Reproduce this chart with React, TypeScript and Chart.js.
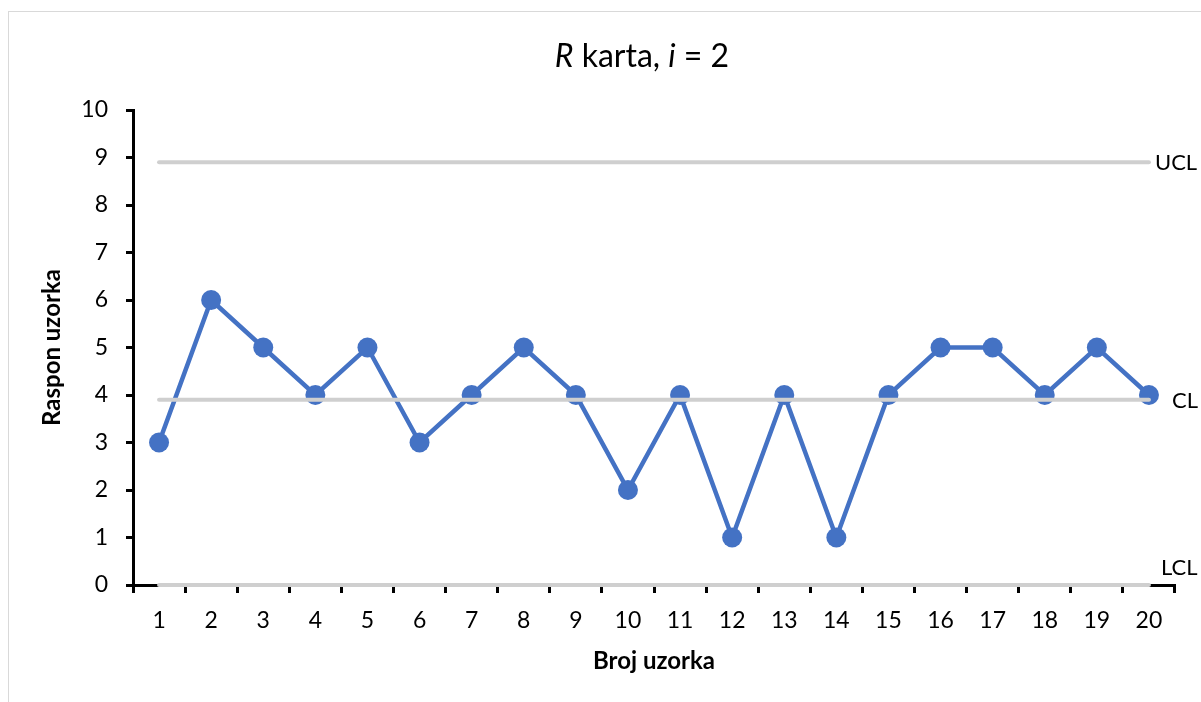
import React, { useEffect, useRef } from "react";
import { Chart, registerables } from "chart.js";

Chart.register(...registerables);

const categories = ["1", "2", "3", "4", "5", "6", "7", "8", "9", "10", "11", "12", "13", "14", "15", "16", "17", "18", "19", "20"];
const sampleRanges = [3, 6, 5, 4, 5, 3, 4, 5, 4, 2, 4, 1, 4, 1, 4, 5, 5, 4, 5, 4];
const uclValues = categories.map(() => 8.9);
const clValues = categories.map(() => 3.9);
const lclValues = categories.map(() => 0);
const limitLabels = ["UCL", "CL", "LCL"];
const yMin = 0;
const yMax = 10;
const titleParts = [
  { text: "R", italic: true },
  { text: " karta, ", italic: false },
  { text: "i", italic: true },
  { text: " = 2", italic: false },
];
const xTitle = "Broj uzorka";
const yTitle = "Raspon uzorka";

const FONT = "Lato, 'Open Sans', sans-serif";

const labelsPlugin = {
  id: "rchartLabels",
  afterDatasetsDraw(chart: any) {
    const { ctx, scales } = chart;
    const xs = scales.x;
    const ys = scales.y;
    ctx.save();
    ctx.fillStyle = "#000";
    const size = 32;
    let total = 0;
    const widths: number[] = [];
    for (const p of titleParts) {
      ctx.font = `${p.italic ? "italic " : ""}${size}px ${FONT}`;
      const w = ctx.measureText(p.text).width;
      widths.push(w);
      total += w;
    }
    let x = 642 - total / 2;
    ctx.textBaseline = "alphabetic";
    ctx.textAlign = "left";
    titleParts.forEach((p, i) => {
      ctx.font = `${p.italic ? "italic " : ""}${size}px ${FONT}`;
      ctx.fillText(p.text, x, 67);
      x += widths[i];
    });
    const lastX = xs.getPixelForValue(categories.length - 1);
    ctx.font = `22px ${FONT}`;
    ctx.textBaseline = "middle";
    ctx.fillText(limitLabels[0], lastX + 6, ys.getPixelForValue(uclValues[0]) + 1);
    ctx.fillText(limitLabels[1], lastX + 23, ys.getPixelForValue(clValues[0]) + 1);
    ctx.fillText(limitLabels[2], lastX + 12, ys.getPixelForValue(lclValues[0]) - 17);
    ctx.restore();
  },
};

export default function App() {
  const ref = useRef<HTMLCanvasElement | null>(null);

  useEffect(() => {
    if (!ref.current) return;
    const limitStyle = {
      borderColor: "#cfcfcf",
      borderWidth: 4,
      pointRadius: 0,
      borderCapStyle: "round" as const,
      clip: false as any,
      fill: false,
    };
    const chart = new Chart(ref.current, {
      type: "line",
      data: {
        labels: categories,
        datasets: [
          { label: "UCL", data: uclValues, ...limitStyle },
          { label: "CL", data: clValues, ...limitStyle },
          { label: "LCL", data: lclValues, ...limitStyle },
          {
            label: "R",
            data: sampleRanges,
            borderColor: "#4472C4",
            backgroundColor: "#4472C4",
            borderWidth: 4.5,
            pointRadius: 10,
            pointBorderWidth: 0,
            pointBackgroundColor: "#4472C4",
            tension: 0,
            clip: false as any,
          },
        ],
      },
      options: {
        responsive: false,
        animation: false,
        devicePixelRatio: 1,
        layout: { padding: { left: 0, right: 26, top: 110, bottom: 0 } },
        plugins: {
          legend: { display: false },
          tooltip: { enabled: false },
          title: { display: false },
        },
        scales: {
          x: {
            type: "category",
            offset: true,
            grid: {
              offset: true,
              drawOnChartArea: false,
              tickLength: 8,
              tickWidth: 3,
              tickColor: "#000",
            },
            border: { color: "#000", width: 3 },
            ticks: {
              color: "#000",
              font: { family: FONT, size: 23 },
              padding: 14,
              maxRotation: 0,
              autoSkip: false,
            },
            title: {
              display: true,
              text: xTitle,
              color: "#000",
              font: { family: FONT, size: 24, weight: "bold" },
              padding: { top: 0, bottom: 26 },
            },
            afterFit: (s: any) => {
              s.height = 117;
            },
          },
          y: {
            min: yMin,
            max: yMax,
            grid: {
              drawOnChartArea: false,
              tickLength: 7,
              tickWidth: 3,
              tickColor: "#000",
            },
            border: { color: "#000", width: 3 },
            ticks: {
              stepSize: 1,
              color: "#000",
              font: { family: FONT, size: 23 },
              padding: 18,
            },
            title: {
              display: true,
              text: yTitle,
              color: "#000",
              font: { family: FONT, size: 24, weight: "bold" },
              padding: { top: 38, bottom: 0 },
            },
            afterFit: (s: any) => {
              s.width = 133;
            },
          },
        },
      },
      plugins: [labelsPlugin],
    });
    return () => chart.destroy();
  }, []);

  return (
    <div>
      <div
        style={{
          position: "fixed",
          left: 8,
          top: 11,
          width: 1400,
          height: 900,
          border: "1px solid #d9d9d9",
          boxSizing: "border-box",
        }}
      />
      <canvas
        ref={ref}
        width={1201}
        height={702}
        style={{ position: "fixed", left: 0, top: 0, width: 1201, height: 702 }}
      />
    </div>
  );
}
